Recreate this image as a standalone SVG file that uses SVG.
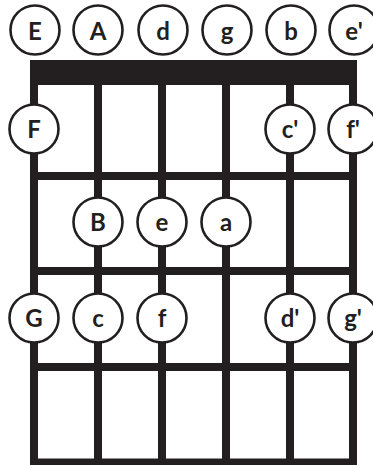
<svg xmlns="http://www.w3.org/2000/svg" width="373" height="465" viewBox="0 0 373 465">
<style>
.str{stroke:#231f20;stroke-width:8;fill:none}
.nut{fill:#231f20}
.n circle{fill:#fff;stroke:#231f20;stroke-width:2.6}
.n text{font-family:Lato,"Open Sans",sans-serif;font-size:24px;font-weight:700;fill:#231f20;text-anchor:middle}
</style>
<rect width="373" height="465" fill="#fff"/>
<g id="connectors">
<rect class="nut" x="30" y="60" width="327" height="25"/>
<line class="str" x1="34" y1="84" x2="34" y2="466"/>
<line class="str" x1="98" y1="84" x2="98" y2="466"/>
<line class="str" x1="162" y1="84" x2="162" y2="466"/>
<line class="str" x1="226" y1="84" x2="226" y2="466"/>
<line class="str" x1="290" y1="84" x2="290" y2="466"/>
<line class="str" x1="353" y1="84" x2="353" y2="466"/>
<line class="str" x1="30" y1="176" x2="357" y2="176"/>
<line class="str" x1="30" y1="271" x2="357" y2="271"/>
<line class="str" x1="30" y1="367" x2="357" y2="367"/>
<line class="str" x1="30" y1="462.5" x2="357" y2="462.5"/>
</g>
<g id="E" class="n"><circle cx="35" cy="30" r="24.5"/><text x="35" y="40">E</text></g>
<g id="A" class="n"><circle cx="98" cy="30" r="24.5"/><text x="98" y="40">A</text></g>
<g id="d" class="n"><circle cx="163" cy="30" r="24.5"/><text x="163" y="40">d</text></g>
<g id="g" class="n"><circle cx="227" cy="30" r="24.5"/><text x="227" y="40">g</text></g>
<g id="b" class="n"><circle cx="291" cy="30" r="24.5"/><text x="291" y="40">b</text></g>
<g id="e1" class="n"><circle cx="354" cy="30" r="24.5"/><text x="354" y="40">e'</text></g>
<g id="F" class="n"><circle cx="34" cy="129" r="24.5"/><text x="34" y="138">F</text></g>
<g id="c1" class="n"><circle cx="290" cy="129" r="24.5"/><text x="290" y="138">c'</text></g>
<g id="f1" class="n"><circle cx="353" cy="129" r="24.5"/><text x="353" y="138">f'</text></g>
<g id="B" class="n"><circle cx="98" cy="222" r="24.5"/><text x="98" y="231">B</text></g>
<g id="e" class="n"><circle cx="162" cy="222" r="24.5"/><text x="162" y="231">e</text></g>
<g id="a" class="n"><circle cx="226" cy="222" r="24.5"/><text x="226" y="231">a</text></g>
<g id="G" class="n"><circle cx="34" cy="318" r="24.5"/><text x="34" y="327">G</text></g>
<g id="c" class="n"><circle cx="98" cy="318" r="24.5"/><text x="98" y="327">c</text></g>
<g id="f" class="n"><circle cx="162" cy="318" r="24.5"/><text x="162" y="327">f</text></g>
<g id="d1" class="n"><circle cx="290" cy="318" r="24.5"/><text x="290" y="327">d'</text></g>
<g id="g1" class="n"><circle cx="353" cy="318" r="24.5"/><text x="353" y="327">g'</text></g>
</svg>
